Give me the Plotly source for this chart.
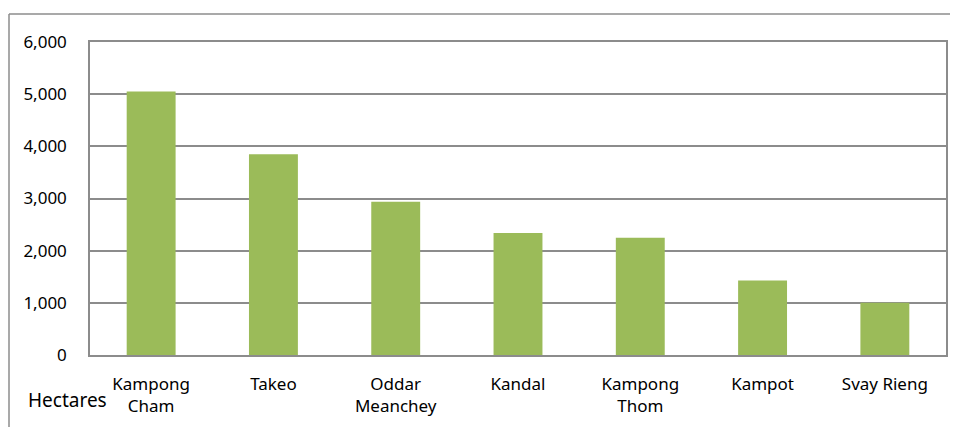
import plotly.graph_objects as go

categories = ["Kampong<br>Cham", "Takeo", "Oddar<br>Meanchey", "Kandal", "Kampong<br>Thom", "Kampot", "Svay Rieng"]
hectares = [5050, 3850, 2940, 2340, 2250, 1430, 1000]
y_ticks = [0, 1000, 2000, 3000, 4000, 5000, 6000]
y_tick_labels = ["0", "1,000", "2,000", "3,000", "4,000", "5,000", "6,000"]

# page has an 8px body margin, so the figure is offset by (8, 8)
OFF = 8
W, H = 950, 419
L, R, T, B = 90 - OFF, 12, 42 - OFF, 72
pw, ph = W - L - R, H - T - B

fig = go.Figure(go.Bar(x=categories, y=hectares, marker=dict(color="#9BBB59", line=dict(width=0)), width=0.4))

font = "Noto Sans, Open Sans, sans-serif"
grid = "#8C8C8C"
fig.update_layout(
    width=W, height=H, margin=dict(l=L, r=R, t=T, b=B, autoexpand=False),
    plot_bgcolor="white", paper_bgcolor="white",
    font=dict(family=font, size=17, color="black"),
    showlegend=False, bargap=0.6,
)
fig.update_yaxes(range=[0, 6000], tickvals=y_ticks, ticktext=y_tick_labels,
                 showgrid=True, gridcolor=grid, gridwidth=1.5,
                 showline=True, linecolor=grid, linewidth=1.5, mirror=True,
                 ticks="", ticklabelstandoff=18, zeroline=False, fixedrange=True,
                 automargin=False, tickfont=dict(size=17))
fig.update_xaxes(showline=True, linecolor=grid, linewidth=1.5, mirror=True,
                 ticks="", ticklabelstandoff=13, tickangle=0, fixedrange=True,
                 automargin=False, tickfont=dict(size=17))

# convert page pixels to paper coordinates
fx = lambda px: (px - OFF - L) / pw
fy = lambda py: 1 - (py - OFF - T) / ph
fig.add_shape(type="line", xref="paper", yref="paper", x0=fx(9), x1=fx(9), y0=fy(14), y1=fy(440),
              line=dict(color="#8C8C8C", width=1.5))
fig.add_shape(type="line", xref="paper", yref="paper", x0=fx(9), x1=fx(970), y0=fy(14), y1=fy(14),
              line=dict(color="#8C8C8C", width=1.5))
fig.add_annotation(text="Hectares", xref="paper", yref="paper", x=fx(67), y=fy(400),
                   showarrow=False, font=dict(size=19, family=font), xanchor="center", yanchor="middle")

fig.write_html("out.html")
